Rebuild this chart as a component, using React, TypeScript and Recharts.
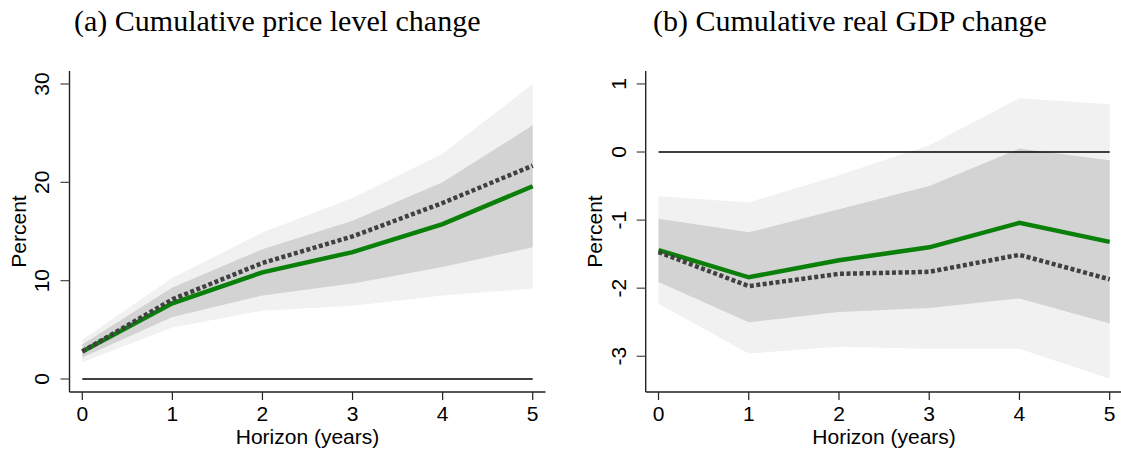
import React from "react";
import { ComposedChart, Area, Line, XAxis, YAxis, ReferenceLine } from "recharts";

// horizons (years)
const horizon = [0, 1, 2, 3, 4, 5];

// (a) cumulative price level change, percent
const priceMain = [2.8, 7.7, 10.85, 12.9, 15.75, 19.6];
const priceAlt = [2.8, 8.1, 11.8, 14.5, 17.9, 21.7];
const priceInnerLo = [2.2, 6.3, 8.5, 9.7, 11.4, 13.4];
const priceInnerHi = [3.5, 9.3, 13.2, 16.1, 20.0, 25.8];
const priceOuterLo = [1.7, 5.25, 6.95, 7.45, 8.5, 9.2];
const priceOuterHi = [4.0, 10.3, 14.9, 18.4, 22.9, 30.0];
const priceTicks = [0, 10, 20, 30];

// (b) cumulative real GDP change, percent
const gdpMain = [-1.44, -1.84, -1.59, -1.4, -1.04, -1.32];
const gdpAlt = [-1.47, -1.97, -1.79, -1.76, -1.51, -1.87];
const gdpInnerLo = [-1.91, -2.5, -2.35, -2.29, -2.15, -2.52];
const gdpInnerHi = [-0.98, -1.18, -0.84, -0.5, 0.05, -0.12];
const gdpOuterLo = [-2.23, -2.96, -2.86, -2.89, -2.89, -3.33];
const gdpOuterHi = [-0.65, -0.74, -0.34, 0.1, 0.79, 0.7];
const gdpTicks = [-3, -2, -1, 0, 1];

const C = {
  green: "#0a800a",
  dots: "#404040",
  inner: "#d3d3d3",
  outer: "#f1f1f1",
  frame: "#222",
};

const SANS = "'Liberation Sans', Arial, sans-serif";
const SERIF = "'Liberation Serif', 'DejaVu Serif', serif";
const FS = 21;

const build = (main: number[], alt: number[], iLo: number[], iHi: number[], oLo: number[], oHi: number[]) =>
  horizon.map((h, i) => ({
    h,
    main: main[i],
    alt: alt[i],
    inner: [iLo[i], iHi[i]],
    outer: [oLo[i], oHi[i]],
  }));

const priceData = build(priceMain, priceAlt, priceInnerLo, priceInnerHi, priceOuterLo, priceOuterHi);
const gdpData = build(gdpMain, gdpAlt, gdpInnerLo, gdpInnerHi, gdpOuterLo, gdpOuterHi);

function YTick(props: any) {
  const { x, y, payload } = props;
  const bx = x - 9;
  return (
    <text x={bx} y={y} transform={`rotate(-90 ${bx} ${y})`} textAnchor="middle"
      fontSize={FS} fontFamily={SANS} fill="#000">
      {String(payload.value)}
    </text>
  );
}

function YLabel(props: any) {
  const vb = props.viewBox;
  const bx = vb.x + vb.width - 44;
  const cy = vb.y + vb.height / 2;
  return (
    <text x={bx} y={cy} transform={`rotate(-90 ${bx} ${cy})`} textAnchor="middle"
      fontSize={FS} fontFamily={SANS} fill="#000">Percent</text>
  );
}

function XLabel(props: any) {
  const vb = props.viewBox;
  return (
    <text x={vb.x + vb.width / 2} y={vb.y + 52} textAnchor="middle"
      fontSize={FS} fontFamily={SANS} fill="#000">Horizon (years)</text>
  );
}

function Panel({ data, yDomain, yTicks, width, axisW, right }: {
  data: Record<string, unknown>[]; yDomain: [number, number]; yTicks: number[];
  width: number; axisW: number; right: number;
}) {
  const xDomain: [number, number] = [-0.142, 5.142];
  return (
    <ComposedChart width={width} height={450} data={data}
      margin={{ top: 71, right, bottom: 0, left: 0 }}>
      <XAxis dataKey="h" type="number" domain={xDomain} ticks={horizon} allowDataOverflow
        height={58} tickSize={8} tickMargin={6} interval={0}
        axisLine={{ stroke: C.frame, strokeWidth: 1.4 }} tickLine={{ stroke: C.frame, strokeWidth: 1.2 }}
        tick={{ fill: "#000", fontSize: FS, fontFamily: SANS }}
        label={{ content: XLabel }} />
      <XAxis xAxisId="top" orientation="top" dataKey="h" type="number" domain={xDomain} allowDataOverflow
        height={0} tick={false} tickLine={false} axisLine={{ stroke: "#444", strokeWidth: 1.4 }} />
      <YAxis type="number" domain={yDomain} ticks={yTicks} allowDataOverflow width={axisW}
        tickSize={9} tickMargin={2} interval={0}
        axisLine={{ stroke: C.frame, strokeWidth: 1.4 }} tickLine={{ stroke: "#444", strokeWidth: 1.2 }}
        tick={YTick} label={{ content: YLabel }} />
      <YAxis yAxisId="right" orientation="right" type="number" domain={yDomain} allowDataOverflow
        width={0} tick={false} tickLine={false} axisLine={{ stroke: "#444", strokeWidth: 1.4 }} />
      <Area dataKey="outer" type="linear" stroke="none" fill={C.outer} fillOpacity={1}
        dot={false} activeDot={false} isAnimationActive={false} />
      <Area dataKey="inner" type="linear" stroke="none" fill={C.inner} fillOpacity={1}
        dot={false} activeDot={false} isAnimationActive={false} />
      <ReferenceLine segment={[{ x: 0, y: 0 }, { x: 5, y: 0 }]} stroke="#000" strokeWidth={1.5} />
      <Line dataKey="main" type="linear" stroke={C.green} strokeWidth={4.5} dot={false}
        activeDot={false} isAnimationActive={false} />
      <Line dataKey="alt" type="linear" stroke={C.dots} strokeWidth={4.5} strokeDasharray="4 2.5"
        dot={false} activeDot={false} isAnimationActive={false} />
    </ComposedChart>
  );
}

const titleStyle: React.CSSProperties = {
  position: "absolute", top: 4, fontFamily: SERIF, fontSize: 30, lineHeight: "34px",
  color: "#000", whiteSpace: "nowrap",
};

export default function App() {
  return (
    <div style={{ position: "relative", width: 1121, height: 450, overflow: "hidden", background: "#fff" }}>
      <style>{"body{margin:0}"}</style>
      <div style={{ ...titleStyle, left: 74 }}>(a) Cumulative price level change</div>
      <div style={{ ...titleStyle, left: 653 }}>(b) Cumulative real GDP change</div>
      <div style={{ position: "absolute", left: 0, top: 0 }}>
        <Panel data={priceData} yDomain={[-1.32, 31.32]} yTicks={priceTicks} width={560} axisW={69.5} right={14.5} />
      </div>
      <div style={{ position: "absolute", left: 560, top: 0 }}>
        <Panel data={gdpData} yDomain={[-3.525, 1.19]} yTicks={gdpTicks} width={575} axisW={85.7} right={12.5} />
      </div>
    </div>
  );
}
